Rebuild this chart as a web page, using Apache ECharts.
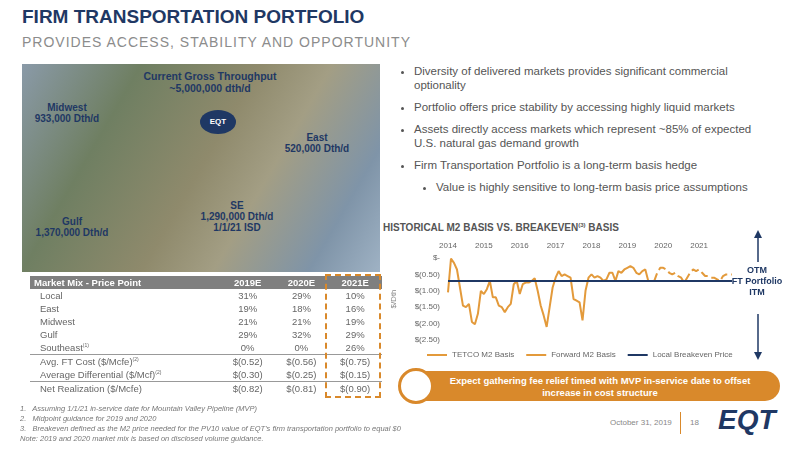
<!DOCTYPE html>
<html><head><meta charset="utf-8">
<script src="https://cdn.jsdelivr.net/npm/echarts@6/dist/echarts.min.js"></script>
<style>
body{margin:0;width:800px;height:450px;position:relative;font-family:Arial,"Liberation Sans",sans-serif;background:#fff;overflow:hidden;color:#555}
.abs{position:absolute}
h1{position:absolute;left:22px;top:6px;margin:0;font-size:19px;color:#1f3864;font-weight:bold}
h2{position:absolute;left:22px;top:34px;margin:0;font-size:14px;color:#8c8c8c;font-weight:normal;letter-spacing:1px}
#map{left:22px;top:64px;width:358px;height:208px;background:linear-gradient(120deg,#8a9aa8 0%,#6f7f62 25%,#8f8a6c 50%,#a39e84 65%,#7f94a8 85%,#9fb2c4 100%);}
.ml{position:absolute;font-size:10px;font-weight:bold;color:#1f3864;text-align:center}
ul{position:absolute;left:398px;top:64px;margin:0;padding:0 0 0 16px;width:350px;font-size:11.5px;color:#555;line-height:14px}
li{margin-bottom:8px}
table{position:absolute;left:30px;top:276px;width:352px;border-collapse:collapse;font-size:9.5px;color:#666}
td{padding:1px 4px;height:11px}
td.n{text-align:center}
tr.h td{background:#7f7f7f;color:#fff;font-weight:bold}
tr.b td{border-top:1px solid #999}
.fn{left:20px;top:404px;font-size:7.5px;font-style:italic;color:#777;line-height:10px}
</style></head><body>
<h1>FIRM TRANSPORTATION PORTFOLIO</h1>
<h2>PROVIDES ACCESS, STABILITY AND OPPORTUNITY</h2>
<div id="map" class="abs">
 <div class="ml" style="left:118px;top:6px;width:140px;font-size:10.5px">Current Gross Throughput<br>~5,000,000 dth/d</div>
 <div class="ml" style="left:178px;top:46px;width:36px;height:24px;line-height:24px;background:#1f3864;color:#fff;border-radius:50%;font-size:8px">EQT</div>
 <div class="ml" style="left:0px;top:38px;width:90px">Midwest<br>933,000 Dth/d</div>
 <div class="ml" style="left:250px;top:68px;width:90px">East<br>520,000 Dth/d</div>
 <div class="ml" style="left:165px;top:136px;width:100px">SE<br>1,290,000 Dth/d<br>1/1/21 ISD</div>
 <div class="ml" style="left:0px;top:152px;width:100px">Gulf<br>1,370,000 Dth/d</div>
</div>
<ul>
<li>Diversity of delivered markets provides significant commercial optionality</li>
<li>Portfolio offers price stability by accessing highly liquid markets</li>
<li>Assets directly access markets which represent ~85% of expected U.S. natural gas demand growth</li>
<li>Firm Transportation Portfolio is a long-term basis hedge
 <ul style="position:static;width:auto;margin-top:8px;padding-left:22px;list-style:disc"><li>Value is highly sensitive to long-term basis price assumptions</li></ul></li>
</ul>
<div class="abs" style="left:383px;top:222px;font-size:10px;font-weight:bold;color:#555">HISTORICAL M2 BASIS VS. BREAKEVEN<sup style="font-size:6px">(3)</sup> BASIS</div>
<div id="chart" class="abs" style="left:380px;top:236px;width:360px;height:130px"></div>
<div class="abs" style="left:738px;top:230px;width:40px;height:130px">
 <svg width="40" height="130"><line x1="20" y1="6" x2="20" y2="32" stroke="#1f3864" stroke-width="1.5"/><polygon points="16,8 24,8 20,0" fill="#1f3864"/>
 <line x1="20" y1="84" x2="20" y2="124" stroke="#1f3864" stroke-width="1.5"/><polygon points="16,122 24,122 20,130" fill="#1f3864"/></svg>
</div>
<div class="abs" style="left:722px;top:265px;width:70px;text-align:center;font-size:9px;font-weight:bold;color:#1f3864;line-height:11px">OTM<br>FT Portfolio<br>ITM</div>
<div class="abs" style="left:420px;top:371px;width:360px;height:30px;background:#d9892b;color:#fff;font-size:9.5px;font-weight:bold;text-align:center;line-height:12px;padding-top:4px;box-sizing:border-box;border-radius:0 15px 15px 0">Expect gathering fee relief timed with MVP in-service date to offset<br>increase in cost structure</div>
<div class="abs" style="left:398px;top:368px;width:30px;height:30px;border-radius:50%;background:#fff;border:3px solid #d9892b"></div>
<table>
<tr class="h"><td>Market Mix - Price Point</td><td class="n">2019E</td><td class="n">2020E</td><td class="n">2021E</td></tr>
<tr><td style="padding-left:10px">Local</td><td class="n">31%</td><td class="n">29%</td><td class="n">10%</td></tr>
<tr><td style="padding-left:10px">East</td><td class="n">19%</td><td class="n">18%</td><td class="n">16%</td></tr>
<tr><td style="padding-left:10px">Midwest</td><td class="n">21%</td><td class="n">21%</td><td class="n">19%</td></tr>
<tr><td style="padding-left:10px">Gulf</td><td class="n">29%</td><td class="n">32%</td><td class="n">29%</td></tr>
<tr><td style="padding-left:10px">Southeast<sup style="font-size:5px">(1)</sup></td><td class="n">0%</td><td class="n">0%</td><td class="n">26%</td></tr>
<tr class="b"><td style="padding-left:10px">Avg. FT Cost ($/Mcfe)<sup style="font-size:5px">(2)</sup></td><td class="n">$(0.52)</td><td class="n">$(0.56)</td><td class="n">$(0.75)</td></tr>
<tr><td style="padding-left:10px">Average Differential ($/Mcf)<sup style="font-size:5px">(2)</sup></td><td class="n">$(0.30)</td><td class="n">$(0.25)</td><td class="n">$(0.15)</td></tr>
<tr class="b"><td style="padding-left:10px">Net Realization ($/Mcfe)</td><td class="n">$(0.82)</td><td class="n">$(0.81)</td><td class="n">$(0.90)</td></tr>
</table>
<div class="abs" style="left:325px;top:274px;width:56px;height:124px;border:2px dashed #d9892b;box-sizing:border-box"></div>
<div class="abs fn">1.&nbsp;&nbsp; Assuming 1/1/21 in-service date for Mountain Valley Pipeline (MVP)<br>2.&nbsp;&nbsp; Midpoint guidance for 2019 and 2020<br>3.&nbsp;&nbsp; Breakeven defined as the M2 price needed for the PV10 value of EQT's firm transportation portfolio to equal $0<br>Note: 2019 and 2020 market mix is based on disclosed volume guidance.</div>
<div class="abs" style="left:610px;top:418px;font-size:8px;color:#888">October 31, 2019</div>
<div class="abs" style="left:680px;top:412px;height:22px;border-left:1px solid #d9892b"></div>
<div class="abs" style="left:690px;top:418px;font-size:8px;color:#888">18</div>
<div class="abs" style="left:718px;top:404px;font-size:28px;font-weight:bold;color:#1f3864;font-style:italic">EQT</div>
<script>
var years = ['2014','2015','2016','2017','2018','2019','2020','2021'];
var months = [];
years.forEach(function(y){ for (var m = 1; m <= 12; m++) months.push(y + '-' + m); });
var tetco = [
 -1.05,-0.02,-0.15,-0.35,-0.9,-1.45,-1.5,-1.4,-1.95,-2.02,-1.7,-1.0,
 -1.1,-0.95,-0.7,-1.2,-1.2,-1.45,-1.5,-1.65,-1.5,-1.4,-0.8,-0.7,
 -1.1,-0.8,-0.75,-0.75,-0.7,-0.62,-1.0,-1.45,-1.75,-2.1,-1.5,-0.9,
 -0.6,-0.4,-0.55,-0.5,-0.55,-0.6,-1.25,-1.3,-1.35,-1.9,-1.0,-0.6,
 -0.5,-0.6,-0.55,-0.6,-0.7,-0.65,-0.45,-0.45,-0.7,-0.4,-0.45,-0.35,
 -0.3,-0.25,-0.3,-0.45,-0.5,-0.4,-0.35,-0.7,-0.7,-0.7
];
var forward = [-0.7,-0.45,-0.3,
 -0.3,-0.35,-0.45,-0.5,-0.45,-0.55,-0.6,-0.75,-0.6,-0.45,-0.35,-0.4,
 -0.35,-0.45,-0.55,-0.55,-0.6,-0.6,-0.65,-0.7,-0.55,-0.5,-0.5,-0.5];
var breakeven = -0.7;
var fwdData = months.map(function(m, i){ var k = i - (tetco.length - 1); return k >= 0 ? forward[k] : null; });
var beData = months.map(function(){ return breakeven; });
var chart = echarts.init(document.getElementById('chart'));
chart.setOption({
 animation: false,
 grid: {left: 68, right: 8, top: 22, bottom: 26},
 legend: {orient: 'horizontal', bottom: 2, left: 42, width: 316, itemWidth: 20, itemHeight: 2, itemGap: 12, icon: 'rect',
   textStyle: {fontSize: 8, color: '#666'},
   data: ['TETCO M2 Basis', 'Forward M2 Basis', 'Local Breakeven Price']},
 xAxis: {type: 'category', position: 'top', data: months, boundaryGap: false,
   axisLine: {show: false}, axisTick: {show: false},
   axisLabel: {fontSize: 8, color: '#666', interval: function(i){ return i % 12 === 0; },
     formatter: function(v){ return v.split('-')[0]; }}},
 yAxis: {type: 'value', min: -2.5, max: 0, interval: 0.5, name: '$/Dth', nameLocation: 'middle', nameGap: 50,
   nameTextStyle: {fontSize: 8, color: '#888'}, nameRotate: 90,
   axisLine: {show: false}, axisTick: {show: false}, splitLine: {show: false},
   axisLabel: {fontSize: 8, color: '#666', formatter: function(v){ return v === 0 ? '$-' : '$(' + Math.abs(v).toFixed(2) + ')'; }}},
 series: [
  {name: 'TETCO M2 Basis', type: 'line', data: tetco, showSymbol: false, lineStyle: {color: '#e39a3b', width: 2}, itemStyle: {color: '#e39a3b'}},
  {name: 'Forward M2 Basis', type: 'line', data: fwdData, showSymbol: false, lineStyle: {color: '#e39a3b', width: 2, type: 'dashed'}, itemStyle: {color: '#e39a3b'}},
  {name: 'Local Breakeven Price', type: 'line', data: beData, showSymbol: false, lineStyle: {color: '#1f3864', width: 2}, itemStyle: {color: '#1f3864'}}
 ]
});
</script>
</body></html>
